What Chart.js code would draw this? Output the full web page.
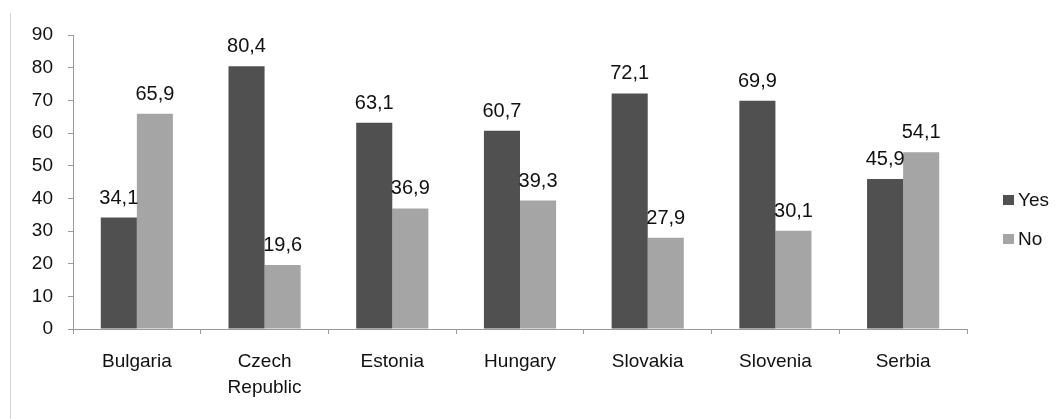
<!DOCTYPE html>
<html>
<head>
<meta charset="utf-8">
<script src="https://cdn.jsdelivr.net/npm/chart.js@4.4.1/dist/chart.umd.min.js"></script>
<style>
  html, body { margin: 0; padding: 0; background: #fff; }
  #wrap { position: relative; width: 1059px; height: 419px; }
  #edge { position: absolute; left: 10px; top: 13px; bottom: 0; width: 1px; background: #d4d4d4; }
</style>
</head>
<body>
<div id="wrap">
  <div id="edge"></div>
  <canvas id="chart" width="1059" height="419"></canvas>
</div>
<script>
// 국가 목록 (x축 카테고리)
const countries = ['Bulgaria', ['Czech', 'Republic'], 'Estonia', 'Hungary', 'Slovakia', 'Slovenia', 'Serbia'];
// 시리즈 값
const yesValues = [34.1, 80.4, 63.1, 60.7, 72.1, 69.9, 45.9];
const noValues = [65.9, 19.6, 36.9, 39.3, 27.9, 30.1, 54.1];
const seriesNames = ['Yes', 'No'];
// y축 눈금
const yTicks = [0, 10, 20, 30, 40, 50, 60, 70, 80, 90];

const FONT = 'Liberation Sans, Arial, sans-serif';
const AXIS_COLOR = '#9a9a9a';

// 막대 위 값 표시 (소수점은 쉼표) + 오른쪽 범례
const valueLabels = {
  id: 'valueLabels',
  afterDatasetsDraw(chart) {
    const ctx = chart.ctx;
    ctx.save();
    ctx.font = `20px ${FONT}`;
    ctx.fillStyle = '#111';
    ctx.textAlign = 'center';
    ctx.textBaseline = 'alphabetic';
    chart.data.datasets.forEach((ds, i) => {
      chart.getDatasetMeta(i).data.forEach((bar, j) => {
        const text = ds.data[j].toFixed(1).replace('.', ',');
        ctx.fillText(text, bar.x, bar.y - 14);
      });
    });

    // 범례: 작은 사각형 + 시리즈 이름
    ctx.font = `19px ${FONT}`;
    ctx.textAlign = 'left';
    ctx.textBaseline = 'middle';
    const legendX = chart.chartArea.right + 36;
    chart.data.datasets.forEach((ds, i) => {
      const cy = 200 + i * 39;
      ctx.fillStyle = ds.backgroundColor;
      ctx.fillRect(legendX, cy - 5, 11, 10);
      ctx.fillStyle = '#111';
      ctx.fillText(ds.label, legendX + 15, cy + 1);
    });
    ctx.restore();
  }
};

new Chart(document.getElementById('chart'), {
  type: 'bar',
  data: {
    labels: countries,
    datasets: [
      { label: seriesNames[0], data: yesValues, backgroundColor: '#505050' },
      { label: seriesNames[1], data: noValues, backgroundColor: '#a5a5a5' },
    ],
  },
  options: {
    responsive: false,
    animation: false,
    devicePixelRatio: 1,
    layout: { padding: { top: 35, bottom: 0, left: 10, right: 92 } },
    datasets: { bar: { categoryPercentage: 0.565, barPercentage: 1.0 } },
    plugins: {
      legend: { display: false },
      tooltip: { enabled: false },
    },
    scales: {
      x: {
        afterFit: (scale) => { scale.height = 90; },
        grid: { offset: true, drawOnChartArea: false, drawTicks: true, tickLength: 5, color: AXIS_COLOR },
        border: { color: AXIS_COLOR },
        ticks: {
          color: '#111',
          font: { family: FONT, size: 19, lineHeight: 1.35 },
          padding: 15,
          maxRotation: 0,
        },
      },
      y: {
        min: 0,
        max: 90,
        afterFit: (scale) => { scale.width = 63; },
        afterBuildTicks: (scale) => { scale.ticks = yTicks.map(v => ({ value: v })); },
        grid: { drawOnChartArea: false, drawTicks: true, tickLength: 5, color: AXIS_COLOR },
        border: { color: AXIS_COLOR },
        ticks: {
          color: '#111',
          font: { family: FONT, size: 19 },
          padding: 15,
        },
      },
    },
  },
  plugins: [valueLabels],
});
</script>
</body>
</html>
